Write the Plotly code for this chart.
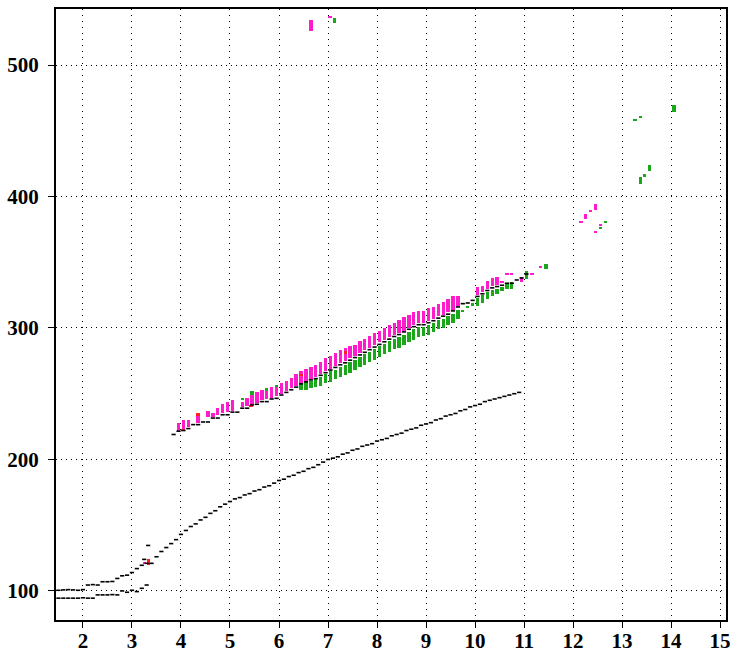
import plotly.graph_objects as go

# ---------------- data ----------------
# lower black curve (two short series at lower left + main curve)
low_a_x = [1.5, 1.6, 1.7, 1.8, 1.9, 2.0, 2.1, 2.2, 2.3, 2.4, 2.5, 2.6, 2.7, 2.8, 2.9, 3.0, 3.1, 3.2, 3.3]
low_a_y = [100.5, 100.8, 101, 100.8, 100.5, 101, 104.5, 104.8, 104.5, 107, 107, 107.2, 109.5, 111.5, 112, 114, 117, 119.5, 121]
low_b_x = [1.5, 1.6, 1.7, 1.8, 1.9, 2.0, 2.1, 2.2, 2.3, 2.4, 2.5, 2.6, 2.7, 2.8, 2.9, 3.0, 3.1, 3.2, 3.3]
low_b_y = [94.5, 94.5, 94.5, 94.5, 94.5, 94.8, 94.5, 94.5, 97, 97, 97, 97.2, 97, 100, 99, 100.5, 99.5, 102, 104.5]
main_x = [3.4, 3.5, 3.6, 3.7, 3.8, 3.9, 4.0, 4.1, 4.2, 4.3, 4.4, 4.5, 4.6, 4.7, 4.8, 4.9,
          5.0, 5.1, 5.2, 5.3, 5.4, 5.5, 5.6, 5.7, 5.8, 5.9, 6.0, 6.1, 6.2, 6.3, 6.4, 6.5,
          6.6, 6.7, 6.8, 6.9, 7.0, 7.1, 7.2, 7.3, 7.4, 7.5, 7.6, 7.7, 7.8, 7.9, 8.0, 8.1,
          8.2, 8.3, 8.4, 8.5, 8.6, 8.7, 8.8, 8.9, 9.0, 9.1, 9.2, 9.3, 9.4, 9.5, 9.6, 9.7,
          9.8, 9.9, 10.0, 10.1, 10.2, 10.3, 10.4, 10.5, 10.6, 10.7, 10.8, 10.9]
main_y = [121, 126, 130, 133, 136, 139, 143, 146, 149, 151, 154, 156, 159, 161, 164, 166,
          168, 170, 171, 173, 174, 176, 177, 179, 180, 182, 184, 185, 187, 188, 190, 191,
          193, 194, 196, 198, 200, 201, 202, 204, 205, 207, 208, 210, 211, 212, 214, 215,
          216, 218, 219, 220, 222, 223, 224, 226, 227, 228, 230, 231, 233, 234, 235, 237,
          238, 240, 241, 242, 244, 245, 246, 247, 248, 249, 250, 251]
extra_black_x = [3.25, 3.33]
extra_black_y = [124, 134.6]

# upper band
band_x = [3.85, 3.95, 4.05, 4.15, 4.25, 4.35, 4.45, 4.55, 4.65, 4.75, 4.85, 4.95,
          5.05, 5.15, 5.25, 5.35, 5.45, 5.55, 5.65, 5.75, 5.85, 5.95,
          6.05, 6.15, 6.25, 6.35, 6.45, 6.55, 6.65, 6.75, 6.85, 6.95,
          7.05, 7.15, 7.25, 7.35, 7.45, 7.55, 7.65, 7.75, 7.85, 7.95,
          8.05, 8.15, 8.25, 8.35, 8.45, 8.55, 8.65, 8.75, 8.85, 8.95,
          9.05, 9.15, 9.25, 9.35, 9.45, 9.55, 9.65, 9.75, 9.85, 9.95,
          10.05, 10.15, 10.25, 10.35, 10.45, 10.55, 10.65, 10.75, 10.85, 10.95, 11.05]
band_black = [219, 221.5, 222, 223.5, 226.5, 226.5, 228.5, 228.5, 231.5, 231.5, 234, 234,
              236, 236, 239, 239, 241.5, 242, 244, 244, 246, 246.5,
              249, 251, 253, 255, 257.5, 259, 260.5, 261.5, 264, 266,
              268, 270, 272, 273.5, 275.5, 277.5, 279.5, 281.5, 283.5, 285.5,
              287.5, 289.5, 291.5, 293.5, 295, 297, 299, 301, 302.5, 302.5,
              304, 305.5, 307.5, 309, 310.5, 313, 316, 318.5, 319, 321,
              324, 326, 328.5, 330.5, 331.5, 332.5, 334, 334, 336.5, 338, 341]
pink_lo = [None, 221, 223, 225, None, 228, None, 232, 232, 234, 235, 236,
           237, None, 240, 241, 242, 243, 245, 246, 247, 248,
           250, 252, 254, 256, 258, 260, 261, 263, 265, 267,
           269, 271, 273, 275, 277, 279, 281, 283, 285, 287,
           289, 291, 293, 295, 296, 298, 300, 302, 304, 304,
           305, 307, 309, 310, 312, 314, 317, None, None, None,
           325, 327, 330, 332, 333, 334, 340, 340, None, 335, None]
pink_hi = [None, 228, 230, 230, None, 233, None, 237, 235, 239, 242, 244,
           245, None, 244, 247, 249, 251, 253, 252, 255, 255,
           258, 260, 262, 265, 267, 269, 270, 272, 274, 277,
           279, 281, 283, 285, 286, 287, 290, 292, 294, 296,
           298, 300, 302, 304, 306, 308, 310, 312, 313, 313,
           315, 316, 318, 320, 322, 324, 324, None, None, None,
           331, 332, 336, 338, 339, 336, 342, 342, None, 339, None]
green_lo = [None, None, None, None, None, None, None, None, None, None, None, None,
            None, None, 245, None, 249, None, None, 252, None, 254.5,
            None, None, None, None, 253, 253, 254, 255, 256, 258,
            259, 261, 263, 264, 266, 268, 270, 272, 274, 276,
            278, 280, 282, 284, 285, 287, 289, 291, 293, 294,
            295, 297, 299, 300, 302, 304, 307, 312, 315, 317,
            317, 319, 322, 324, 326, 328, 330, 330, None, None, 337]
green_hi = [None, None, None, None, None, None, None, None, None, None, None, None,
            None, None, 247, None, 252, None, None, 254, None, 257,
            None, None, None, None, 259, 260, 260, 262, 263, 265,
            267, 268, 270, 272, 274, 276, 278, 280, 282, 284,
            286, 288, 290, 292, 293, 295, 297, 299, 301, 301,
            302, 304, 306, 307, 309, 311, 314, 314, 317, 319,
            323, 325, 327, 329, 330, 331, 334, 335, None, None, 343]

# scattered extra marks
pink_x = [3.25, 6.65, 7.04, 11.16, 11.33, 12.16, 12.26, 12.36, 12.46, 12.46, 12.56]
pink_lo2 = [120.5, 526, 536, 340.5, 345.5, 380, 382.7, 388, 389.7, 372.5, 377.6]
pink_hi2 = [122, 534, 537.5, 342, 347, 381.5, 386.7, 389.5, 394.3, 374, 379]
green_x = [7.13, 11.45, 12.56, 12.66, 13.26, 13.37, 14.06, 13.37, 13.46, 13.56]
green_lo2 = [531.7, 345, 375.5, 380, 457.5, 460, 464.5, 409.5, 415.2, 419.7]
green_hi2 = [535.5, 349, 377, 381.5, 459, 461.5, 469.6, 414.6, 416.6, 424]
red_x = [3.34, 4.04, 4.35, 5.43, 6.45, 7.35]
red_lo = [119.8, 221.5, 233, 240, 263.5, 280.5]
red_hi = [124, 223, 235, 241.5, 265, 282.5]

PINK = "#ff1ccc"
GREEN = "#1aa81a"
RED = "#ff2020"
BW = 0.068


def bar_trace(xs, lo, hi, color):
    px, pb, ph = [], [], []
    for x, a, b in zip(xs, lo, hi):
        if a is None or b is None:
            continue
        px.append(x)
        pb.append(a)
        ph.append(max(b - a, 1.6))
    return go.Bar(x=px, y=ph, base=pb, width=BW, marker=dict(color=color, line=dict(width=0)),
                  showlegend=False, hoverinfo="skip")


fig = go.Figure()
fig.add_trace(bar_trace(band_x, green_lo, green_hi, GREEN))
fig.add_trace(bar_trace(green_x, green_lo2, green_hi2, GREEN))
fig.add_trace(bar_trace(band_x, pink_lo, pink_hi, PINK))
fig.add_trace(bar_trace(pink_x, pink_lo2, pink_hi2, PINK))
fig.add_trace(bar_trace(red_x, red_lo, red_hi, RED))

black_marker = dict(symbol="line-ew", size=3, color="black", line=dict(width=1.6, color="black"))
for xs, ys in [(low_a_x, low_a_y), (low_b_x, low_b_y), (main_x, main_y),
               (extra_black_x, extra_black_y), (band_x, band_black)]:
    fig.add_trace(go.Scatter(x=xs, y=ys, mode="markers", marker=black_marker,
                             showlegend=False, hoverinfo="skip", cliponaxis=False))

tickfont = dict(family="Liberation Serif", size=21, color="black", weight="bold")
fig.update_layout(
    width=735, height=654,
    margin=dict(l=56, r=9, t=9, b=34, autoexpand=False),
    paper_bgcolor="white", plot_bgcolor="white",
    barmode="overlay", bargap=0,
    showlegend=False,
)
fig.update_xaxes(range=[1.45, 15.12], tickmode="array",
                 tickvals=[2, 3, 4, 5, 6, 7, 8, 9, 10, 11, 12, 13, 14, 15],
                 ticktext=["2", "3", "4", "5", "6", "7", "8", "9", "10", "11", "12", "13", "14", "15"],
                 showgrid=True, gridcolor="black", gridwidth=1, griddash="1px,5px",
                 showline=True, linecolor="black", linewidth=2, mirror=True,
                 ticks="outside", ticklen=6, tickcolor="black", tickwidth=1,
                 tickfont=tickfont, zeroline=False, automargin=False, ticklabelstandoff=-5)
fig.update_yaxes(range=[77.9, 542.6], tickmode="array",
                 tickvals=[100, 200, 300, 400, 500],
                 ticktext=["100", "200", "300", "400", "500"],
                 showgrid=True, gridcolor="black", gridwidth=1, griddash="1px,4px",
                 showline=True, linecolor="black", linewidth=2, mirror=True,
                 ticks="outside", ticklen=6, tickcolor="black", tickwidth=1,
                 tickfont=tickfont, zeroline=False, automargin=False, ticklabelstandoff=5)

fig.write_html("out.html", config={"displayModeBar": False},
               post_script="document.body.style.margin='0';document.body.style.overflow='hidden';")
